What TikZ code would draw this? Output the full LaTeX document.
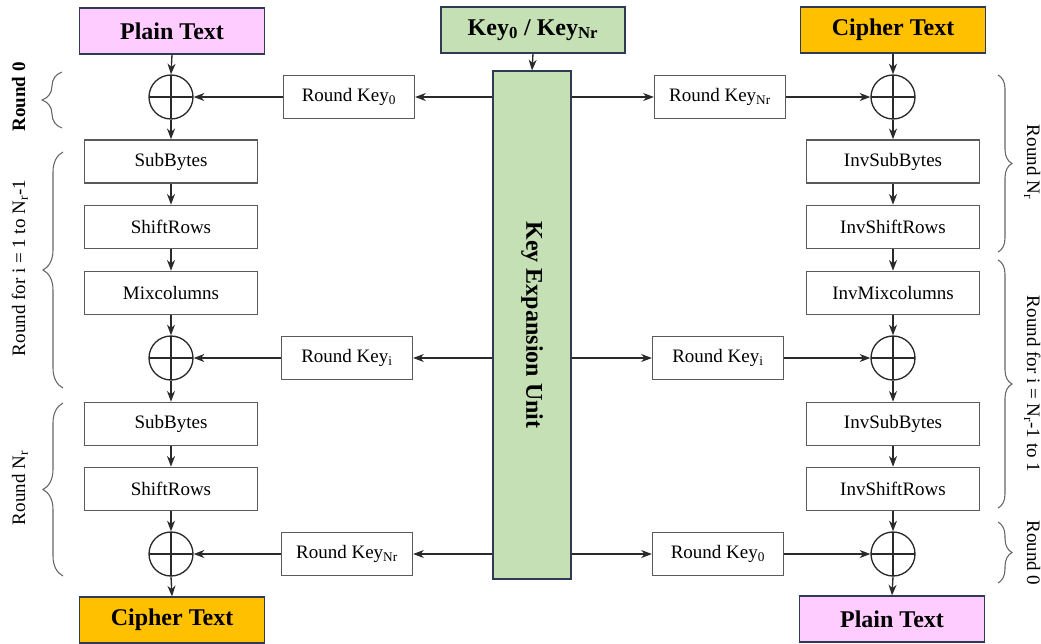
\documentclass[tikz,border=0pt]{standalone}
\usepackage{fontspec}
\setmainfont{Liberation Serif}
\usetikzlibrary{arrows.meta,decorations.pathreplacing,calc}

\definecolor{pinkfill}{HTML}{FFCCFF}
\definecolor{goldfill}{HTML}{FFC000}
\definecolor{greenfill}{HTML}{C5E0B4}
\definecolor{navyline}{HTML}{2F3B55}
\definecolor{boxline}{HTML}{5A5A5A}
\definecolor{wire}{HTML}{2A2A2A}

\tikzset{
  opbox/.style={draw=boxline, line width=1.2pt, fill=white,
    minimum width=129.75pt, minimum height=32.25pt, inner sep=0pt,
    font=\fontsize{14.25}{17}\selectfont},
  keybox/.style={opbox, minimum width=98pt},
  titlebox/.style={draw=navyline, line width=0.9pt,
    minimum width=138.75pt, minimum height=34.5pt, inner sep=0pt,
    font=\fontsize{18}{21}\selectfont\bfseries},
  xor/.style={circle, draw=wire, line width=1pt, minimum size=33pt, inner sep=0pt,
    path picture={\draw[wire, line width=1pt]
      (path picture bounding box.north) -- (path picture bounding box.south)
      (path picture bounding box.west) -- (path picture bounding box.east);}},
  flow/.style={draw=wire, line width=1pt, -{Stealth[length=8pt,width=6pt,inset=2.5pt]}},
  lbrace/.style={draw=black!60, line width=0.8pt, decorate,
    decoration={brace, amplitude=15pt}},
  rbrace/.style={draw=black!60, line width=0.8pt, decorate,
    decoration={brace, amplitude=10.5pt}},
  roundlbl/.style={font=\fontsize{14.25}{17}\selectfont, anchor=base, inner sep=0pt},
}

\begin{document}
\begin{tikzpicture}[x=0.75pt, y=-0.75pt]
\useasboundingbox (0,0) rectangle (1041,643);

% ---------- key schedule ----------
\node[titlebox, fill=greenfill, minimum width=138pt] (key) at (533,30)
  {Key\textsubscript{0} / Key\textsubscript{Nr}};
\node[draw=navyline, line width=0.9pt, fill=greenfill, minimum width=58.5pt,
  minimum height=381pt, inner sep=0pt] (keu) at (532,325) {};
\node[rotate=-90, font=\fontsize{18}{21}\selectfont\bfseries] (keulbl) at (keu.center)
  {Key Expansion Unit};
\draw[flow] (key.south) -- (keu.north);

% ---------- encryption column ----------
\node[titlebox, fill=pinkfill] (ept) at (172,31) {Plain Text};
\node[xor] (ex0) at (171,97) {};
\node[opbox] (esb1) at (171,161.5) {SubBytes};
\node[opbox] (esr1) at (171,227) {ShiftRows};
\node[opbox] (emc1) at (171,293) {Mixcolumns};
\node[xor] (ex1) at (171,358) {};
\node[opbox] (esb2) at (171,424) {SubBytes};
\node[opbox] (esr2) at (171,489) {ShiftRows};
\node[xor] (ex2) at (171,554) {};
\node[titlebox, fill=goldfill] (ect) at (172,620) {Cipher Text};

\draw[flow] (ept.south) -- (ex0.north);
\draw[flow] (ex0.south) -- (esb1.north);
\draw[flow] (esb1.south) -- (esr1.north);
\draw[flow] (esr1.south) -- (emc1.north);
\draw[flow] (emc1.south) -- (ex1.north);
\draw[flow] (ex1.south) -- (esb2.north);
\draw[flow] (esb2.south) -- (esr2.north);
\draw[flow] (esr2.south) -- (ex2.north);
\draw[flow] (ex2.south) -- (ect.north);

\node[keybox] (ek0) at (349,97) {Round Key\textsubscript{0}};
\node[keybox] (eki) at (347,358) {Round Key\textsubscript{i}};
\node[keybox] (eknr) at (347,554) {Round Key\textsubscript{Nr}};

\draw[flow] (keu.west |- ek0) -- (ek0.east);
\draw[flow] (keu.west |- eki) -- (eki.east);
\draw[flow] (keu.west |- eknr) -- (eknr.east);
\draw[flow] (ek0.west) -- (ex0.east);
\draw[flow] (eki.west) -- (ex1.east);
\draw[flow] (eknr.west) -- (ex2.east);

% ---------- decryption column ----------
\node[titlebox, fill=goldfill] (dct) at (893,30) {Cipher Text};
\node[xor] (dx0) at (893,97) {};
\node[opbox] (dsb1) at (893,161.5) {InvSubBytes};
\node[opbox] (dsr1) at (893,227) {InvShiftRows};
\node[opbox] (dmc1) at (893,293) {InvMixcolumns};
\node[xor] (dx1) at (893,358) {};
\node[opbox] (dsb2) at (893,424) {InvSubBytes};
\node[opbox] (dsr2) at (893,489) {InvShiftRows};
\node[xor] (dx2) at (893,554) {};
\node[titlebox, fill=pinkfill] (dpt) at (892,619) {Plain Text};

\draw[flow] (dct.south) -- (dx0.north);
\draw[flow] (dx0.south) -- (dsb1.north);
\draw[flow] (dsb1.south) -- (dsr1.north);
\draw[flow] (dsr1.south) -- (dmc1.north);
\draw[flow] (dmc1.south) -- (dx1.north);
\draw[flow] (dx1.south) -- (dsb2.north);
\draw[flow] (dsb2.south) -- (dsr2.north);
\draw[flow] (dsr2.south) -- (dx2.north);
\draw[flow] (dx2.south) -- (dpt.north);

\node[keybox] (dknr) at (720,97) {Round Key\textsubscript{Nr}};
\node[keybox] (dki) at (718,358) {Round Key\textsubscript{i}};
\node[keybox] (dk0) at (718,554) {Round Key\textsubscript{0}};

\draw[flow] (keu.east |- dknr) -- (dknr.west);
\draw[flow] (keu.east |- dki) -- (dki.west);
\draw[flow] (keu.east |- dk0) -- (dk0.west);
\draw[flow] (dknr.east) -- (dx0.west);
\draw[flow] (dki.east) -- (dx1.west);
\draw[flow] (dk0.east) -- (dx2.west);

% ---------- round braces and labels ----------
\draw[lbrace] (62,128) -- (62,72);
\draw[lbrace] (63,388) -- (63,152);
\draw[lbrace] (63,576) -- (63,403);
\node[roundlbl, rotate=90] (el0) at (25,97) {\bfseries Round 0};
\node[roundlbl, rotate=90] (el1) at (25,268) {Round for i = 1 to N\textsubscript{r}-1};
\node[roundlbl, rotate=90] (el2) at (25,488) {Round N\textsubscript{r}};

\draw[rbrace] (998,75) -- (998,252);
\draw[rbrace] (998,260) -- (998,508);
\draw[rbrace] (998,522) -- (998,583);
\node[roundlbl, rotate=-90] (dl0) at (1027,162) {Round N\textsubscript{r}};
\node[roundlbl, rotate=-90] (dl1) at (1027,384) {Round for i = N\textsubscript{r}-1 to 1};
\node[roundlbl, rotate=-90] (dl2) at (1027,553) {Round 0};
\end{tikzpicture}
\end{document}
